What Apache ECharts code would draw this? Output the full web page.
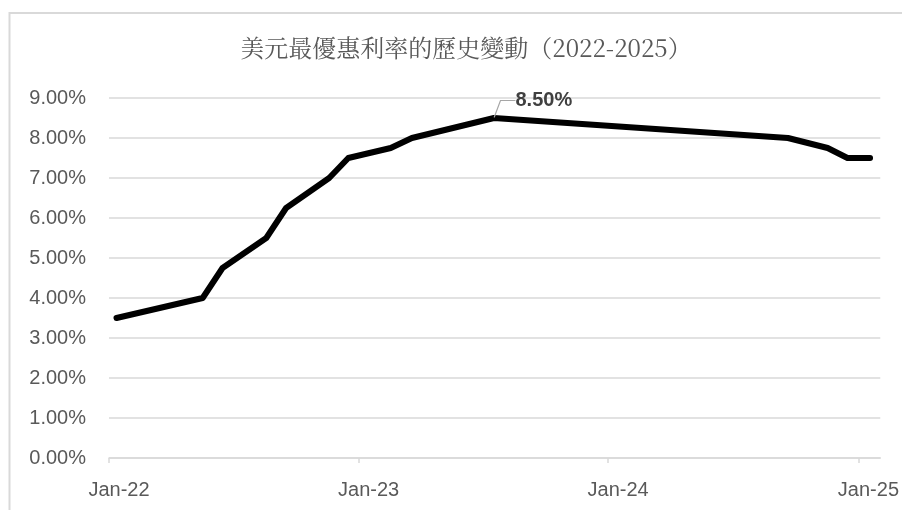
<!DOCTYPE html>
<html>
<head>
<meta charset="utf-8">
<script src="https://cdn.jsdelivr.net/npm/echarts@6/dist/echarts.min.js"></script>
<style>html,body{margin:0;padding:0;background:#fff}#c{width:902px;height:510px}</style>
</head>
<body>
<div id="c"></div>
<script>
var titleText = '美元最優惠利率的歷史變動（2022-2025）';
var dates = ['2022-01-12','2022-05-18','2022-06-16','2022-08-19','2022-09-17','2022-11-19','2022-12-17','2023-02-17','2023-03-20','2023-05-19','2023-07-18','2024-09-20','2024-11-17','2024-12-16','2025-01-18'];
var rates = [3.5, 4.0, 4.75, 5.5, 6.25, 7.0, 7.5, 7.75, 8.0, 8.25, 8.5, 8.0, 7.75, 7.5, 7.5];
var tickDates = ['2022-01-01','2023-01-01','2024-01-01','2025-01-01'];
var tickLabels = ['Jan-22','Jan-23','Jan-24','Jan-25'];
var xMinDate = '2022-01-01';
var xMaxDate = '2025-02-02';
var peakIndex = 10;

var FONT = '"Liberation Sans", Arial, sans-serif';
function ts(s){ var p = s.split('-'); return Date.UTC(+p[0], +p[1]-1, +p[2]); }
var tickTs = tickDates.map(ts);
var seriesData = dates.map(function(d, i){
  var item = { value: [ts(d), rates[i]] };
  if (i === peakIndex) {
    item.label = {
      show: true,
      formatter: function(p){ return p.value[1].toFixed(2) + '%'; },
      fontFamily: FONT, fontSize: 20, fontWeight: 'bold', color: '#404040',
      padding: [0, 0, 0, 7]
    };
    item.labelLine = { show: true, length2: 15, minTurnAngle: 0, lineStyle: { color: '#a6a6a6', width: 1.2 } };
  }
  return item;
});

var chart = echarts.init(document.getElementById('c'));
chart.setOption({
  animation: false,
  backgroundColor: '#fff',
  title: {
    text: titleText, left: 461, top: 31, textAlign: 'center',
    textStyle: { fontFamily: '"Noto Serif CJK TC", "Noto Sans CJK TC", serif', fontSize: 24, fontWeight: 'normal', color: '#595959' }
  },
  graphic: [{
    type: 'rect', silent: true,
    shape: { x: 9.5, y: 13, width: 1000, height: 1000 },
    style: { fill: 'none', stroke: '#d9d9d9', lineWidth: 2 }
  }],
  grid: { left: 109, right: 19, top: 98, bottom: 52, containLabel: false },
  xAxis: {
    type: 'value',
    min: ts(xMinDate), max: ts(xMaxDate),
    axisLine: { show: true, lineStyle: { color: '#d9d9d9', width: 1.5 } },
    axisTick: { show: true, customValues: tickTs, length: 5, lineStyle: { color: '#d9d9d9', width: 1.5 } },
    axisLabel: {
      customValues: tickTs,
      formatter: function(v){ var i = tickTs.indexOf(v); return i >= 0 ? tickLabels[i] : ''; },
      fontFamily: FONT, fontSize: 20, color: '#595959',
      margin: 22, padding: [0, 0, 0, 20]
    },
    splitLine: { show: false }
  },
  yAxis: {
    type: 'value', min: 0, max: 9, interval: 1,
    axisLine: { show: false }, axisTick: { show: false },
    axisLabel: {
      formatter: function(v){ return v.toFixed(2) + '%'; },
      fontFamily: FONT, fontSize: 20, color: '#595959', margin: 23
    },
    splitLine: { lineStyle: { color: '#d9d9d9', width: 1.5 } }
  },
  series: [{
    type: 'line',
    data: seriesData,
    showSymbol: true,
    symbol: 'circle',
    symbolSize: 1,
    itemStyle: { color: '#000' },
    lineStyle: { color: '#000', width: 6, join: 'round', cap: 'round' },
    labelLayout: function(p){
      if (p.dataIndex === peakIndex) {
        return { x: p.rect.x + 15, y: p.rect.y - 17, align: 'left', verticalAlign: 'middle' };
      }
      return {};
    }
  }]
});
</script>
</body>
</html>
